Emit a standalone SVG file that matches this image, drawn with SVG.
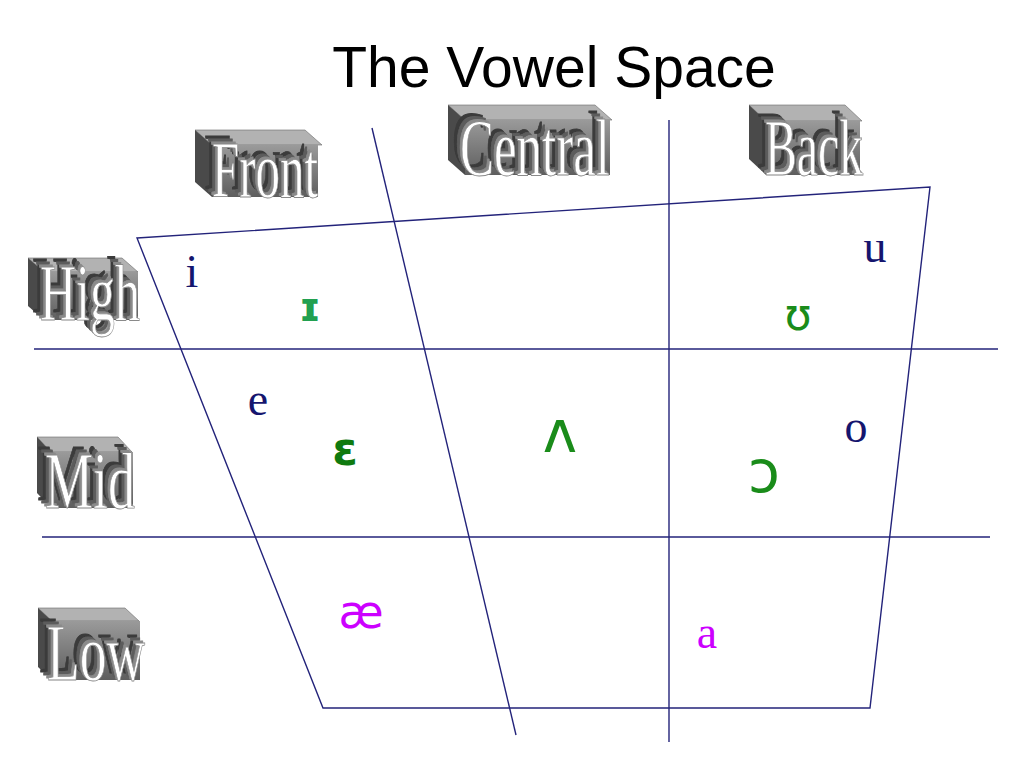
<svg xmlns="http://www.w3.org/2000/svg" width="1024" height="768" viewBox="0 0 1024 768">
<defs>
<linearGradient id="gface" x1="0" y1="0" x2="0" y2="1">
<stop offset="0" stop-color="#9a9a9a"/>
<stop offset="1" stop-color="#5e5e5e"/>
</linearGradient>
<filter id="extrude" x="-20%" y="-20%" width="140%" height="140%">
<feFlood flood-color="#3a3a3a" result="dark"/>
<feComposite in="dark" in2="SourceAlpha" operator="in" result="darkA"/>
<feOffset in="darkA" dx="-8" dy="-8" result="o1"/>
<feFlood flood-color="#5c5c5c" result="mid"/>
<feComposite in="mid" in2="SourceAlpha" operator="in" result="midA"/>
<feOffset in="midA" dx="-5" dy="-5" result="o2"/>
<feFlood flood-color="#8a8a8a" result="lt"/>
<feComposite in="lt" in2="SourceAlpha" operator="in" result="ltA"/>
<feOffset in="ltA" dx="-2" dy="-2" result="o3"/>
<feMerge>
<feMergeNode in="o1"/>
<feMergeNode in="o2"/>
<feMergeNode in="o3"/>
<feMergeNode in="SourceGraphic"/>
</feMerge>
</filter>
</defs>
<style>
.ln{stroke:#23237a;stroke-width:1.4;fill:none}
.top{fill:#b2b2b2;stroke:#6a6a6a;stroke-width:0.6}
.side{fill:#4a4a4a}
.face{fill:url(#gface)}
.lbl{font-family:"Liberation Serif","Times New Roman",serif;font-size:80px;fill:#fff;stroke:#8a8a8a;stroke-width:0.8;filter:url(#extrude)}
.ser{font-family:"Liberation Serif","Times New Roman",serif;font-size:46px;text-anchor:middle}
.navy{fill:#15156e}
.mag{fill:#cc00ff}
.ipa{font-family:"DejaVu Sans","Noto Sans",sans-serif;text-anchor:middle}
</style>
<rect width="1024" height="768" fill="#fff"/>
<text x="554" y="87" font-family="Liberation Sans, Arial, sans-serif" font-size="57" text-anchor="middle" fill="#000">The Vowel Space</text>

<g id="connectors">
<polygon class="ln" points="137,238 930,187 870,708 323,708"/>
<line class="ln" x1="372" y1="128" x2="516" y2="735"/>
<line class="ln" x1="669" y1="120" x2="669" y2="742"/>
<line class="ln" x1="34" y1="349" x2="998" y2="349"/>
<line class="ln" x1="42" y1="537" x2="990" y2="537"/>
</g>

<g id="label-front">
<polygon class="top" points="195,130 305,130 322,145 212,145"/>
<polygon class="side" points="195,130 212,145 212,197 195,182"/>
<rect class="face" x="212" y="145" width="106" height="52"/>
<text class="lbl" x="212" y="197" textLength="106" lengthAdjust="spacingAndGlyphs">Front</text>
</g>

<g id="label-central">
<polygon class="top" points="448,105 595,105 612,120 465,120"/>
<polygon class="side" points="448,105 465,120 465,175 448,160"/>
<rect class="face" x="465" y="120" width="145" height="55"/>
<text class="lbl" x="460" y="175" textLength="150" lengthAdjust="spacingAndGlyphs">Central</text>
</g>

<g id="label-back">
<polygon class="top" points="749,105 845,105 862,121 766,121"/>
<polygon class="side" points="749,105 766,121 766,175 749,159"/>
<rect class="face" x="766" y="121" width="94" height="54"/>
<text class="lbl" x="765" y="175" textLength="98" lengthAdjust="spacingAndGlyphs">Back</text>
</g>

<g id="label-high">
<polygon class="top" points="28,258 122,258 138,272 44,272"/>
<polygon class="side" points="28,258 44,272 44,320 28,306"/>
<rect class="face" x="44" y="272" width="94" height="48"/>
<text class="lbl" x="40" y="320" textLength="100" lengthAdjust="spacingAndGlyphs">High</text>
</g>

<g id="label-mid">
<polygon class="top" points="37,437 118,437 132,452 51,452"/>
<polygon class="side" points="37,437 51,452 51,508 37,493"/>
<rect class="face" x="51" y="452" width="82" height="56"/>
<text class="lbl" x="45" y="508" textLength="90" lengthAdjust="spacingAndGlyphs">Mid</text>
</g>

<g id="label-low">
<polygon class="top" points="38,608 125,608 139,621 52,621"/>
<polygon class="side" points="38,608 52,621 52,680 38,667"/>
<rect class="face" x="52" y="621" width="88" height="59"/>
<text class="lbl" x="47" y="680" textLength="98" lengthAdjust="spacingAndGlyphs">Low</text>
</g>

<g id="vowel-i"><text class="ser navy" x="192" y="287">i</text></g>
<g id="vowel-small-i"><text class="ipa" x="310" y="321" font-family="DejaVu Sans Mono, monospace" font-size="40" font-weight="bold" fill="#22a050">ɪ</text></g>
<g id="vowel-u"><text class="ser navy" x="875" y="262">u</text></g>
<g id="vowel-upsilon"><text class="ipa" x="798" y="330" font-size="44" fill="#1a8c1a">ʊ</text></g>
<g id="vowel-e"><text class="ser navy" x="258" y="415">e</text></g>
<g id="vowel-epsilon"><text class="ipa" x="345" y="465" font-size="46" font-weight="bold" fill="#0f7a0f">ɛ</text></g>
<g id="vowel-wedge"><text class="ipa" x="560" y="452" font-size="58" fill="#1a8c1a">ʌ</text></g>
<g id="vowel-o"><text class="ser navy" x="856" y="442">o</text></g>
<g id="vowel-open-o"><text class="ipa" x="764" y="492" font-size="58" fill="#1a8c1a">ɔ</text></g>
<g id="vowel-ae"><text class="ipa" x="361" y="628" font-family="Liberation Sans, Arial, sans-serif" font-size="46" fill="#cc00ff">æ</text></g>
<g id="vowel-a"><text class="ser mag" x="707" y="648">a</text></g>
</svg>
